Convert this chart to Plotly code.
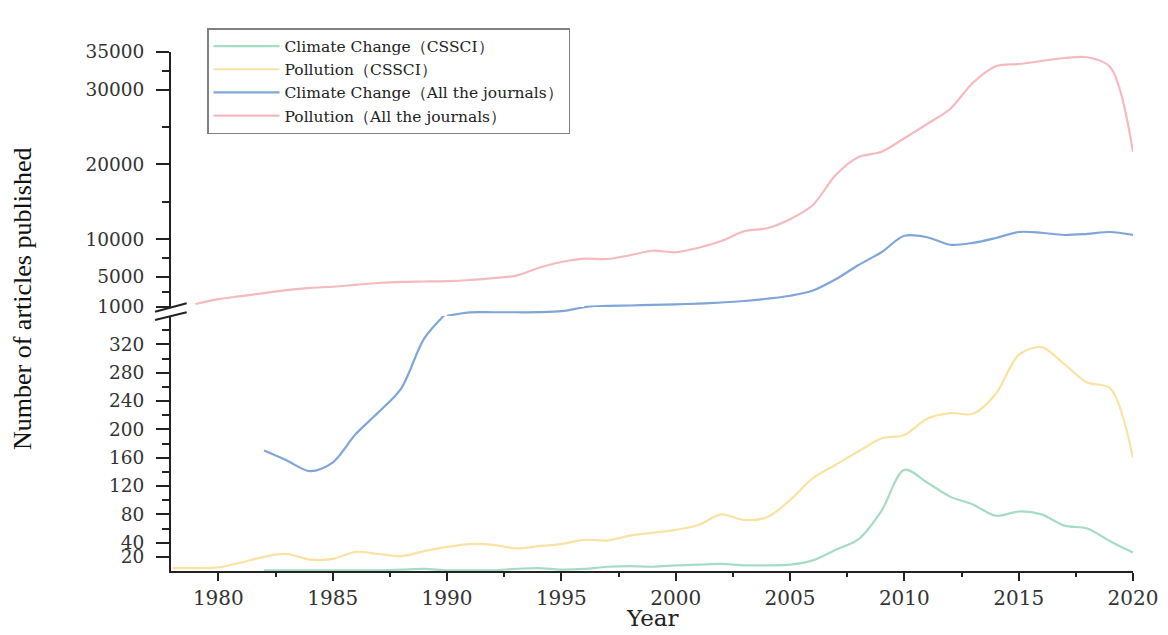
import plotly.graph_objects as go

# ---------------- data ----------------
years_cc_cssci = list(range(1982, 2021))
cc_cssci = [1, 1, 1, 1, 1, 1, 2, 3, 1, 1, 1, 3, 4, 2, 3, 6, 7, 6, 8, 9,
            10, 8, 8, 9, 15, 30, 45, 85, 143, 125, 105, 94, 78, 84, 80, 64, 60, 42, 26]

years_poll_cssci = list(range(1978, 2021))
poll_cssci = [4, 4, 5, 12, 20, 24, 16, 17, 27, 24, 21, 28, 34, 38, 37, 32, 35, 38, 44, 43,
              50, 54, 58, 65, 80, 72, 76, 100, 131, 150, 169, 187, 192, 215, 223, 222, 250,
              305, 316, 292, 266, 258, 160]

years_cc_all = list(range(1982, 2021))
cc_all = [170, 156, 141, 153, 193, 224, 258, 328, 365, 620, 625, 625, 630, 700, 980,
          1150, 1200, 1280, 1350, 1450, 1600, 1800, 2100, 2500, 3200, 4700, 6600, 8300,
          10500, 10300, 9300, 9550, 10200, 11000, 10900, 10600, 10750, 11000, 10600]

years_poll_all = list(range(1979, 2021))
poll_all = [1400, 2050, 2450, 2850, 3250, 3550, 3700, 3950, 4200, 4350, 4400, 4450, 4600,
            4850, 5150, 6200, 7000, 7450, 7400, 7900, 8500, 8300, 8900, 9800, 11100, 11500,
            12700, 14600, 18600, 21000, 21700, 23500, 25400, 27400, 30900, 33100, 33400,
            33800, 34200, 34300, 33000, 21700]

names = ["Climate Change（CSSCI）", "Pollution（CSSCI）",
         "Climate Change（All the journals）", "Pollution（All the journals）"]
colors = ["#a6dcc4", "#f9e2a2", "#7fa6d8", "#f6b9bd"]

x_ticks = list(range(1980, 2021, 5))
x_minor = [1982.5 + 5 * i for i in range(8)]
low_ticks = [20, 40, 80, 120, 160, 200, 240, 280, 320]
low_minor = [60, 100, 140, 180, 220, 260, 300, 340]
high_ticks = [1000, 5000, 10000, 20000, 30000, 35000]
high_minor = [3000, 7500, 15000, 25000, 32500]

# y-axis break: lower segment 0-360, break band 360-1000, upper segment 1000-35000
LOW_MAX, HIGH_MIN, HIGH_MAX = 360, 1000, 35000

# ---------------- layout geometry ----------------
# page body adds an 8px offset, so the figure is 8px smaller and margins shifted
W, H = 1160, 627
ML, MR, MT, MB = 163, 35, 44, 64
PW, PH = W - ML - MR, H - MT - MB
low_top = 0.4913     # end of lower segment
gap_top = 0.5087     # end of break band

fig = go.Figure()
line_kw = dict(shape="spline", smoothing=0.9, width=2.2)

# split of the blue series over the three stacked y scales
low_vals = [v if v <= 400 else None for v in cc_all]
band_vals = [v if LOW_MAX <= v <= 1200 else None for v in cc_all]
high_vals = [v if v >= 900 else None for v in cc_all]

fig.add_trace(go.Scatter(x=years_cc_cssci, y=cc_cssci, name=names[0], legendgroup="g0",
                         mode="lines", line=dict(color=colors[0], **line_kw), yaxis="y"))
fig.add_trace(go.Scatter(x=years_poll_cssci, y=poll_cssci, name=names[1], legendgroup="g1",
                         mode="lines", line=dict(color=colors[1], **line_kw), yaxis="y"))
fig.add_trace(go.Scatter(x=years_cc_all, y=low_vals, name=names[2], legendgroup="g2",
                         mode="lines", connectgaps=False,
                         line=dict(color=colors[2], **line_kw), yaxis="y"))
fig.add_trace(go.Scatter(x=years_poll_all, y=poll_all, name=names[3], legendgroup="g3",
                         mode="lines", line=dict(color=colors[3], **line_kw), yaxis="y2"))
fig.add_trace(go.Scatter(x=years_cc_all, y=band_vals, name=names[2], legendgroup="g2",
                         showlegend=False, mode="lines", connectgaps=False,
                         line=dict(color=colors[2], **line_kw), yaxis="y3"))
fig.add_trace(go.Scatter(x=years_cc_all, y=high_vals, name=names[2], legendgroup="g2",
                         showlegend=False, mode="lines", connectgaps=False,
                         line=dict(color=colors[2], **line_kw), yaxis="y2"))

axis_common = dict(showline=True, linecolor="#222", linewidth=2, ticks="outside",
                   tickwidth=2, tickcolor="#222", showgrid=False, zeroline=False)
y_font = dict(family="DejaVu Serif", size=18.5, color="#333")
x_font = dict(family="DejaVu Serif", size=20, color="#333")

fig.update_layout(
    width=W, height=H,
    margin=dict(l=ML, r=MR, t=MT, b=MB, autoexpand=False),
    paper_bgcolor="white", plot_bgcolor="white",
    xaxis=dict(range=[1977.93, 2020], anchor="y", tickmode="array", tickvals=x_ticks,
               ticktext=[str(v) for v in x_ticks], ticklen=8, tickfont=x_font,
               minor=dict(tickvals=x_minor, ticks="outside", ticklen=4, tickwidth=2,
                          tickcolor="#222"),
               **axis_common),
    yaxis=dict(domain=[0, low_top], range=[0, LOW_MAX], anchor="x", tickmode="array",
               tickvals=low_ticks, ticktext=[str(v) for v in low_ticks], ticklen=13,
               ticklabelstandoff=8, tickfont=y_font,
               minor=dict(tickvals=low_minor, ticks="outside", ticklen=7, tickwidth=2,
                          tickcolor="#222"),
               **axis_common),
    yaxis3=dict(domain=[low_top, gap_top], range=[LOW_MAX, HIGH_MIN], anchor="x",
                visible=False),
    yaxis2=dict(domain=[gap_top, 1], range=[HIGH_MIN, HIGH_MAX], anchor="x", tickmode="array",
                tickvals=high_ticks, ticktext=[str(v) for v in high_ticks], ticklen=13,
                ticklabelstandoff=8, tickfont=y_font,
                minor=dict(tickvals=high_minor, ticks="outside", ticklen=7, tickwidth=2,
                           tickcolor="#222"),
                **axis_common),
    legend=dict(x=(199 - ML) / PW, y=1 + (MT - 20) / PH, xanchor="left", yanchor="top",
                bgcolor="white", bordercolor="#808080", borderwidth=1.5,
                font=dict(family="DejaVu Serif", size=15.5, color="#222"),
                tracegroupgap=0, itemwidth=66),
    showlegend=True,
)

# axis break marks (two slanted strokes across the y axis)
for y0, y1 in ((0.4996, 0.5158), (0.4836, 0.4985)):
    fig.add_shape(type="line", xref="paper", yref="paper", x0=-0.0166, x1=0.0163,
                  y0=y0, y1=y1, line=dict(color="#222", width=2))

# axis titles
fig.add_annotation(text="Year", xref="paper", yref="paper", x=0.5, y=-32 / PH,
                   showarrow=False, xanchor="center", yanchor="top",
                   font=dict(family="DejaVu Serif", size=23, color="#222"))
fig.add_annotation(text="Number of articles published", xref="paper", yref="paper",
                   x=(22 - 171) / PW, y=(571 - 299) / PH, textangle=-90,
                   showarrow=False, xanchor="center", yanchor="middle",
                   font=dict(family="Liberation Serif", size=26, color="#111"))

fig.write_html("out.html")
